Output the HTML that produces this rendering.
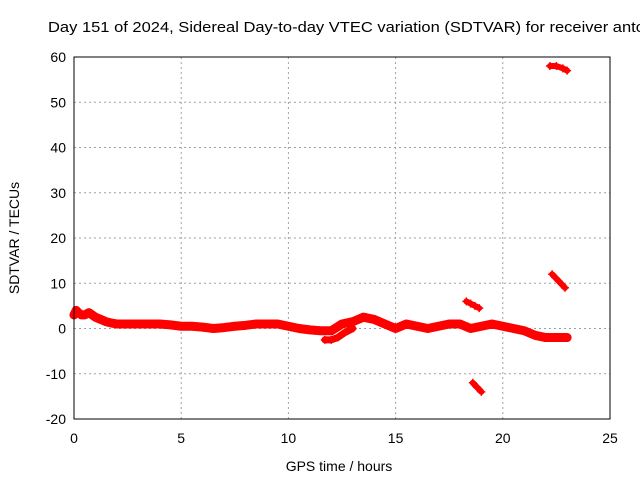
<!DOCTYPE html>
<html><head><meta charset="utf-8"><style>
body{margin:0;background:#fff;width:640px;height:480px;overflow:hidden}
svg text{font-family:"Liberation Sans",sans-serif;font-size:14px;fill:#000}
</style></head><body>
<svg id="c" width="640" height="480">
<text x="48" y="32" textLength="596" lengthAdjust="spacingAndGlyphs" style="font-size:14.5px">Day 151 of 2024, Sidereal Day-to-day VTEC variation (SDTVAR) for receiver antc</text>
<g id="grid"></g><g id="axes"></g><g id="marks"></g>
<rect x="74" y="57" width="536" height="362" fill="none" stroke="#000" stroke-width="1"/>
<text x="339" y="471" text-anchor="middle">GPS time / hours</text>
<text transform="translate(19,238) rotate(-90)" text-anchor="middle">SDTVAR / TECUs</text>
</svg>
<script>
const xTicks=[0,5,10,15,20,25];
const yTicks=[-20,-10,0,10,20,30,40,50,60];
const mainHours=[0,0.1,0.2,0.35,0.5,0.7,0.85,1,1.25,1.5,1.75,2,2.5,3,3.5,4,4.5,5,5.5,6,6.5,7,7.5,8,8.5,9,9.5,10,10.5,11,11.5,12,12.5,13,13.5,14,14.5,15,15.5,16,16.5,17,17.5,18,18.5,19,19.5,20,20.5,21,21.5,22,22.5,23];
const mainValues=[3,4,3.5,3,3,3.5,3,2.5,2,1.5,1.2,1,1,1,1,1,0.8,0.5,0.5,0.3,0,0.2,0.5,0.7,1,1,1,0.5,0,-0.3,-0.5,-0.5,1,1.5,2.5,2,1,0,1,0.5,0,0.5,1,1,0,0.5,1,0.5,0,-0.5,-1.5,-2,-2,-2];
const lowHours=[11.7,12,12.3,12.6,13];
const lowValues=[-2.5,-2.5,-2,-1,0];
const c1Hours=[18.3,18.5,18.7,18.9];const c1Values=[6,5.5,5,4.5];
const c2Hours=[18.6,18.8,19];const c2Values=[-12,-13,-14];
const c3Hours=[22.2,22.5,22.8,23];const c3Values=[58,58,57.5,57];
const c4Hours=[22.3,22.6,22.9];const c4Values=[12,10.5,9];
const X=h=>74+h*536/25, Y=v=>419-(v+20)*362/80;
const NS="http://www.w3.org/2000/svg";
const grid=document.getElementById('grid'),axes=document.getElementById('axes'),marks=document.getElementById('marks');
function mk(tag,attrs,parent){const e=document.createElementNS(NS,tag);for(const k in attrs)e.setAttribute(k,attrs[k]);parent.appendChild(e);return e;}
xTicks.forEach(t=>{
 const l=mk('line',{x1:X(t),x2:X(t),y1:57,y2:419,stroke:'#a0a0a0','stroke-dasharray':'2,3','stroke-width':1},grid);
 
 
 const tx=mk('text',{x:X(t),y:443,'text-anchor':'middle'},axes);tx.textContent=t;
 
 
});
yTicks.forEach(t=>{
 const l=mk('line',{x1:74,x2:610,y1:Y(t),y2:Y(t),stroke:'#a0a0a0','stroke-dasharray':'2,3','stroke-width':1},grid);
 
 
 const tx=mk('text',{x:66,y:Y(t)+5,'text-anchor':'end'},axes);tx.textContent=t;
 
 
});
function series(hs,vs,name,w){
 const pts=hs.map((h,i)=>X(h)+','+Y(vs[i])).join(' ');
 const p=mk('polyline',{points:pts,fill:'none',stroke:'#ff0000','stroke-width':w,'stroke-linejoin':'round','stroke-linecap':'round'},marks);
 
 
 hs.forEach((h,i)=>{
  const x=X(h),y=Y(vs[i]);
  const m=mk('path',{d:`M${x-4},${y}H${x+4}M${x},${y-4}V${y+4}`,stroke:'#ff0000','stroke-width':1.5},marks);
  
  
 });
}
series(mainHours,mainValues,'main-band',9);
series(lowHours,lowValues,'lower-branch',7);
series(c1Hours,c1Values,'cluster-18h-high',6);
series(c2Hours,c2Values,'cluster-18h-low',6);
series(c3Hours,c3Values,'cluster-22h-top',6);
series(c4Hours,c4Values,'cluster-22h-mid',6);
</script>
</body></html>
